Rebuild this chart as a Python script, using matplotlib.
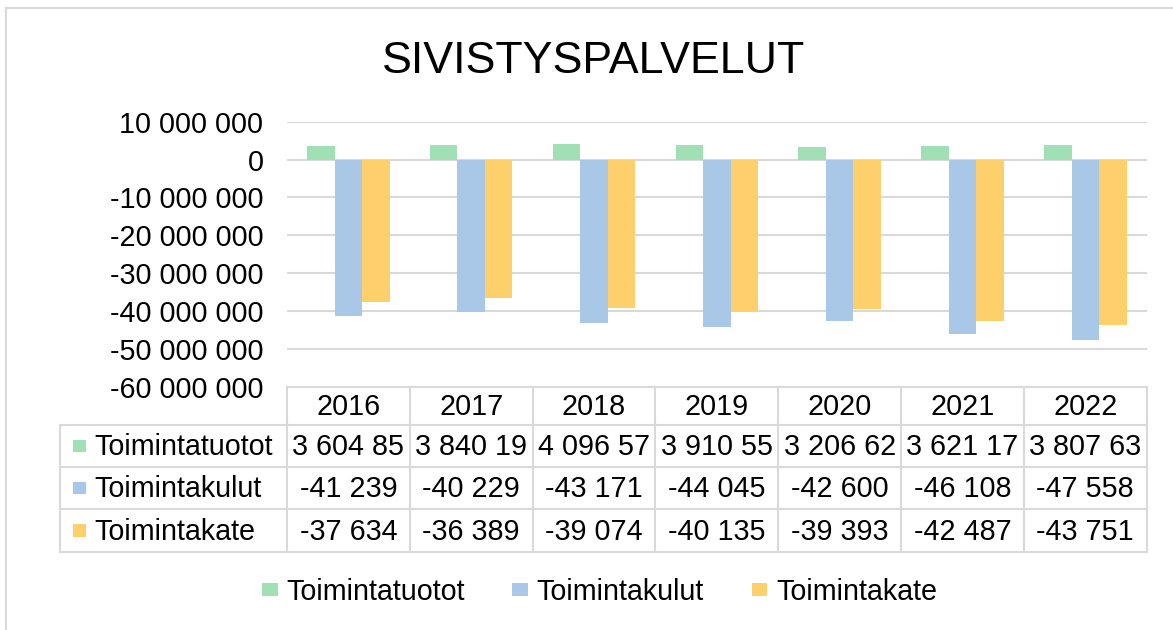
import numpy as np
import matplotlib
matplotlib.use('Agg')
import matplotlib.pyplot as plt
from matplotlib.patches import Rectangle, Patch
from matplotlib.lines import Line2D
from matplotlib.transforms import blended_transform_factory

# ---------------- data ----------------
years = ['2016', '2017', '2018', '2019', '2020', '2021', '2022']
series_names = ['Toimintatuotot', 'Toimintakulut', 'Toimintakate']
toimintatuotot = [3604850, 3840190, 4096570, 3910550, 3206620, 3621170, 3807630]
toimintakulut = [-41239000, -40229000, -43171000, -44045000, -42600000, -46108000, -47558000]
toimintakate = [-37634000, -36389000, -39074000, -40135000, -39393000, -42487000, -43751000]
y_ticks = [10000000, 0, -10000000, -20000000, -30000000, -40000000, -50000000, -60000000]
title = 'SIVISTYSPALVELUT'

# ---------------- style ----------------
colors = ['#A0E0B4', '#A9C8E8', '#FDD06B']
grid_c = '#D9D9D9'
FS = 20.7
plt.rcParams['font.family'] = ['Liberation Sans', 'DejaVu Sans']

W, H = 1173, 630
fig = plt.figure(figsize=(W / 100, H / 100), dpi=100)
fig.patch.set_facecolor('white')


def fx(px):
    return px / W


def fy(py):
    return 1 - py / H


def fmt(v):
    return f"{v:,.0f}".replace(',', ' ')


# outer chart frame (left + top visible)
fig.add_artist(Line2D([fx(6), fx(6)], [fy(8), 0], color=grid_c, lw=1.5, transform=fig.transFigure))
fig.add_artist(Line2D([fx(6), 1], [fy(8), fy(8)], color=grid_c, lw=1.5, transform=fig.transFigure))

# title
fig.text(fx(594), fy(73), title, fontsize=32.2, ha='center', va='baseline', color='black')

# ---------------- plot area ----------------
left_px, right_px, top_px, bot_px = 287, 1146.7, 121.7, 387
ax = fig.add_axes([fx(left_px), fy(bot_px), fx(right_px) - fx(left_px), fy(top_px) - fy(bot_px)])
ax.set_facecolor('none')

series = [toimintatuotot, toimintakulut, toimintakate]
x = np.arange(len(years))
bw = 0.224
for i, (vals, c) in enumerate(zip(series, colors)):
    ax.bar(x + (i - 1) * bw, vals, width=bw, color=c, zorder=3, label=series_names[i], linewidth=0)

ax.set_xlim(-0.5, len(years) - 0.5)
ax.set_ylim(min(y_ticks), max(y_ticks))
ax.set_yticks(y_ticks)
ax.set_yticklabels([fmt(v) for v in y_ticks])
ax.tick_params(axis='y', length=0, pad=17, labelsize=FS, colors='black')
ax.set_xticks([])
for s in ax.spines.values():
    s.set_visible(False)
ax.yaxis.grid(True, color=grid_c, linewidth=1.5, zorder=0)
ax.set_axisbelow(True)

# ---------------- data table ----------------
trans = blended_transform_factory(ax.transData, fig.transFigure)
row_edges = [387, 425, 467, 509, 552]
table_left_px = 60
n = len(years)

# horizontal lines
fig.add_artist(Line2D([-0.5, n - 0.5], [fy(row_edges[0])] * 2, color=grid_c, lw=1.5,
                      transform=trans, clip_on=False))
for ry in row_edges[1:]:
    fig.add_artist(Line2D([fx(table_left_px), fx(right_px)], [fy(ry)] * 2, color=grid_c, lw=1.5,
                          transform=fig.transFigure, clip_on=False))
# vertical lines
for k in range(n + 1):
    fig.add_artist(Line2D([k - 0.5, k - 0.5], [fy(row_edges[0]), fy(row_edges[-1])], color=grid_c,
                          lw=1.5, transform=trans, clip_on=False))
fig.add_artist(Line2D([fx(table_left_px)] * 2, [fy(row_edges[1]), fy(row_edges[-1])], color=grid_c,
                      lw=1.5, transform=fig.transFigure, clip_on=False))

# header (years)
hc = (row_edges[0] + row_edges[1]) / 2
for k, yr in enumerate(years):
    fig.text(k, fy(hc + 9), yr, transform=trans, fontsize=FS, ha='center', va='baseline', color='black')

# measure cell width to truncate text like Excel
fig.canvas.draw()
renderer = fig.canvas.get_renderer()
cell_w = ax.transData.transform((1, 0))[0] - ax.transData.transform((0, 0))[0]
maxw = cell_w - 8


def fit_text(s):
    t = fig.text(0, 0, s, fontsize=FS)
    while t.get_window_extent(renderer).width > maxw and len(s) > 1:
        s = s[:-1].rstrip()
        t.set_text(s)
    t.remove()
    return s


for r, (name, vals, c) in enumerate(zip(series_names, series, colors)):
    rc = (row_edges[r + 1] + row_edges[r + 2]) / 2
    fig.add_artist(Rectangle((fx(73), fy(rc + 6.4)), fx(13.4), 12.7 / H, color=c,
                             transform=fig.transFigure, linewidth=0))
    fig.text(fx(94), fy(rc + 9), name, fontsize=FS, ha='left', va='baseline', color='black')
    for k, v in enumerate(vals):
        fig.text(k, fy(rc + 9), fit_text(fmt(v)), transform=trans, fontsize=FS,
                 ha='center', va='baseline', color='black')

# ---------------- legend ----------------
handles = [Patch(facecolor=c, edgecolor='none') for c in colors]
fig.legend(handles, series_names, loc='center', bbox_to_anchor=(fx(599.5), fy(592)), ncol=3,
           frameon=False, fontsize=FS, handlelength=0.55, handleheight=0.3, handletextpad=0.3,
           columnspacing=1.65, borderpad=0, borderaxespad=0)

fig.savefig('out.png', dpi=100)
